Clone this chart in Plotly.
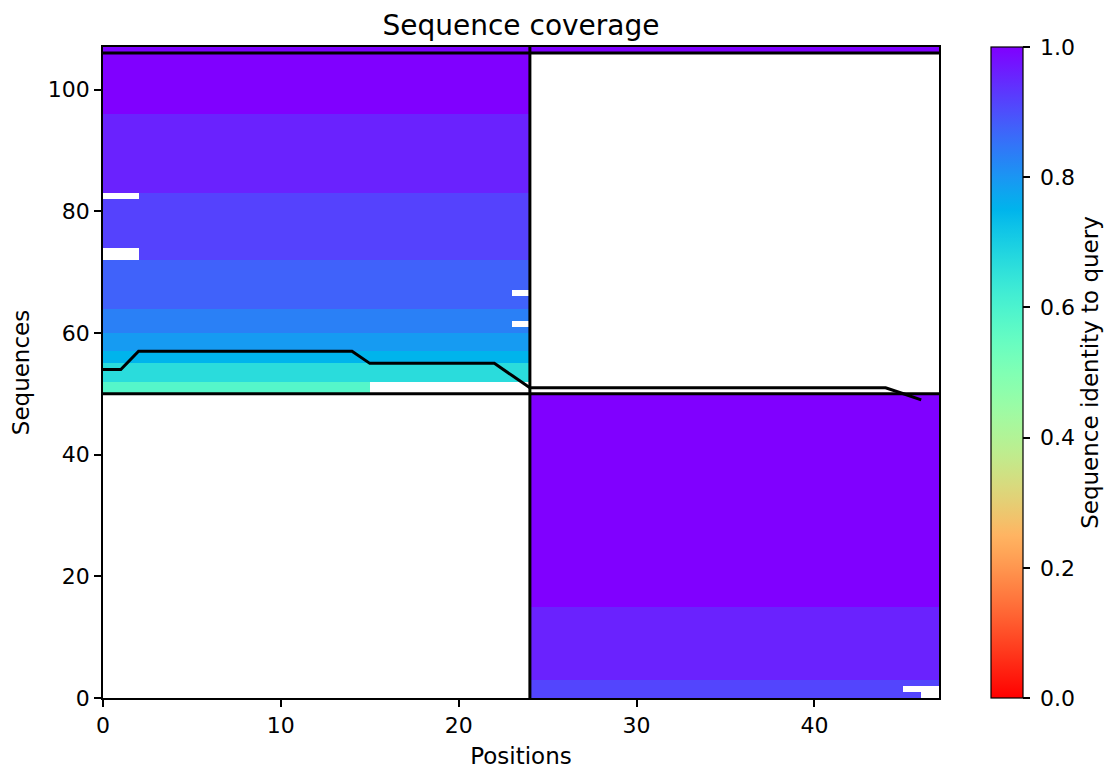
import math
import numpy as np
import plotly.graph_objects as go

# ---------------- data ----------------
chain_lengths = [24, 23]                      # residues per chain
# block of sequences covering chain 2 only (bottom), sorted by identity
chain2_band_identity = [0.913, 0.957, 1.0]
chain2_band_rows = [3, 12, 35]
# block of sequences covering chain 1 only (middle), sorted by identity
chain1_band_identity = [0.583, 0.667, 0.75, 0.792, 0.833, 0.875, 0.917, 0.958, 1.0]
chain1_band_rows = [2, 3, 2, 3, 4, 8, 11, 13, 10]
# query row covering both chains (top)
query_identity = 1.0
# gaps: (row, first column, column after last)
gap_rows = [0, 1, 50, 51, 61, 66, 72, 73, 82]
gap_start = [46, 45, 15, 15, 23, 23, 0, 0, 0]
gap_end = [47, 47, 24, 24, 24, 24, 2, 2, 2]
# number of aligned (non-gap) sequences per position
coverage = [54, 54, 57, 57, 57, 57, 57, 57, 57, 57, 57, 57, 57, 57, 57,
            55, 55, 55, 55, 55, 55, 55, 55, 53,
            51, 51, 51, 51, 51, 51, 51, 51, 51, 51, 51, 51, 51, 51, 51,
            51, 51, 51, 51, 51, 51, 50, 49]
x_ticks = [0, 10, 20, 30, 40]
y_ticks = [0, 20, 40, 60, 80, 100]
cbar_ticks = [0.0, 0.2, 0.4, 0.6, 0.8, 1.0]

# ---------------- build matrix ----------------
L = sum(chain_lengths)
bounds = np.cumsum([0] + chain_lengths)
rows = []
for ident, n in zip(chain2_band_identity, chain2_band_rows):
    for _ in range(n):
        r = [np.nan] * L
        for c in range(bounds[1], bounds[2]):
            r[c] = ident
        rows.append(r)
for ident, n in zip(chain1_band_identity, chain1_band_rows):
    for _ in range(n):
        r = [np.nan] * L
        for c in range(bounds[0], bounds[1]):
            r[c] = ident
        rows.append(r)
rows.append([query_identity] * L)
Z = np.array(rows, dtype=float)
for rr, a, b in zip(gap_rows, gap_start, gap_end):
    Z[rr, a:b] = np.nan
N = Z.shape[0]
block_edges = np.cumsum([0, sum(chain2_band_rows), sum(chain1_band_rows), 1])


# matplotlib "rainbow_r" colormap
def rainbow_r(v):
    x = 1.0 - v
    r = min(1.0, abs(2 * x - 0.5))
    g = max(0.0, math.sin(math.pi * x))
    b = max(0.0, math.cos(math.pi * x / 2))
    return "rgb(%d,%d,%d)" % (round(r * 255), round(g * 255), round(b * 255))


stops = np.linspace(0, 1, 41)
colorscale = [[float(s), rainbow_r(float(s))] for s in stops]

FONT = "DejaVu Sans"
TICK_SIZE = 22
LABEL_SIZE = 23

# page body adds an offset of ~8px; figure is sized so the plot area
# lands at x 103..939, y 47..698 of the window
W, H = 1105, 761
ML, MT = 95, 39
PW, PH = 836, 651

fig = go.Figure()
fig.add_trace(go.Heatmap(
    z=Z,
    x=np.arange(L) + 0.5,
    y=np.arange(N) + 0.5,
    zmin=0, zmax=1,
    colorscale=colorscale,
    hoverongaps=False,
    colorbar=dict(
        x=(991 - 103) / PW, xanchor="left", xpad=0,
        y=0.5, yanchor="middle", ypad=0,
        len=1, lenmode="fraction", thickness=32, thicknessmode="pixels",
        outlinecolor="black", outlinewidth=1.2,
        tickvals=cbar_ticks, ticktext=["\u2005%.1f" % t for t in cbar_ticks],
        ticks="outside", ticklen=7, tickwidth=1.5, tickcolor="black",
        tickfont=dict(family=FONT, size=TICK_SIZE, color="black"),
        title=dict(text="Sequence identity to query", side="right",
                   font=dict(family=FONT, size=LABEL_SIZE, color="black")),
    ),
))

line_style = dict(color="black", width=3)
for xb in bounds[1:-1]:
    fig.add_trace(go.Scatter(x=[xb, xb], y=[0, N], mode="lines",
                             line=line_style, showlegend=False, hoverinfo="skip"))
for yb in block_edges[1:-1]:
    fig.add_trace(go.Scatter(x=[0, L], y=[yb, yb], mode="lines",
                             line=line_style, showlegend=False, hoverinfo="skip"))
fig.add_trace(go.Scatter(x=list(range(L)), y=coverage, mode="lines",
                         line=line_style, showlegend=False))

axis_common = dict(
    showgrid=False, zeroline=False, showline=True, mirror=True,
    linecolor="black", linewidth=1.5,
    ticks="outside", ticklen=7, tickwidth=1.5, tickcolor="black",
    tickfont=dict(family=FONT, size=TICK_SIZE, color="black"),
)
fig.update_xaxes(range=[0, L], tickvals=x_ticks, **axis_common,
                 title=dict(text="Positions",
                            font=dict(family=FONT, size=LABEL_SIZE, color="black"),
                            standoff=12))
fig.update_yaxes(range=[0, N], tickvals=y_ticks, **axis_common,
                 title=dict(text="Sequences",
                            font=dict(family=FONT, size=LABEL_SIZE, color="black"),
                            standoff=14))

fig.update_layout(
    width=W, height=H,
    margin=dict(l=ML, r=W - ML - PW, t=MT, b=H - MT - PH, autoexpand=False),
    paper_bgcolor="white", plot_bgcolor="white",
    font=dict(family=FONT, color="black"),
    title=dict(text="Sequence coverage", x=0.5, xref="paper", xanchor="center",
               y=1 - 17 / H, yref="container", yanchor="middle",
               font=dict(family=FONT, size=28, color="black")),
    showlegend=False,
)
fig.write_html("out.html")
